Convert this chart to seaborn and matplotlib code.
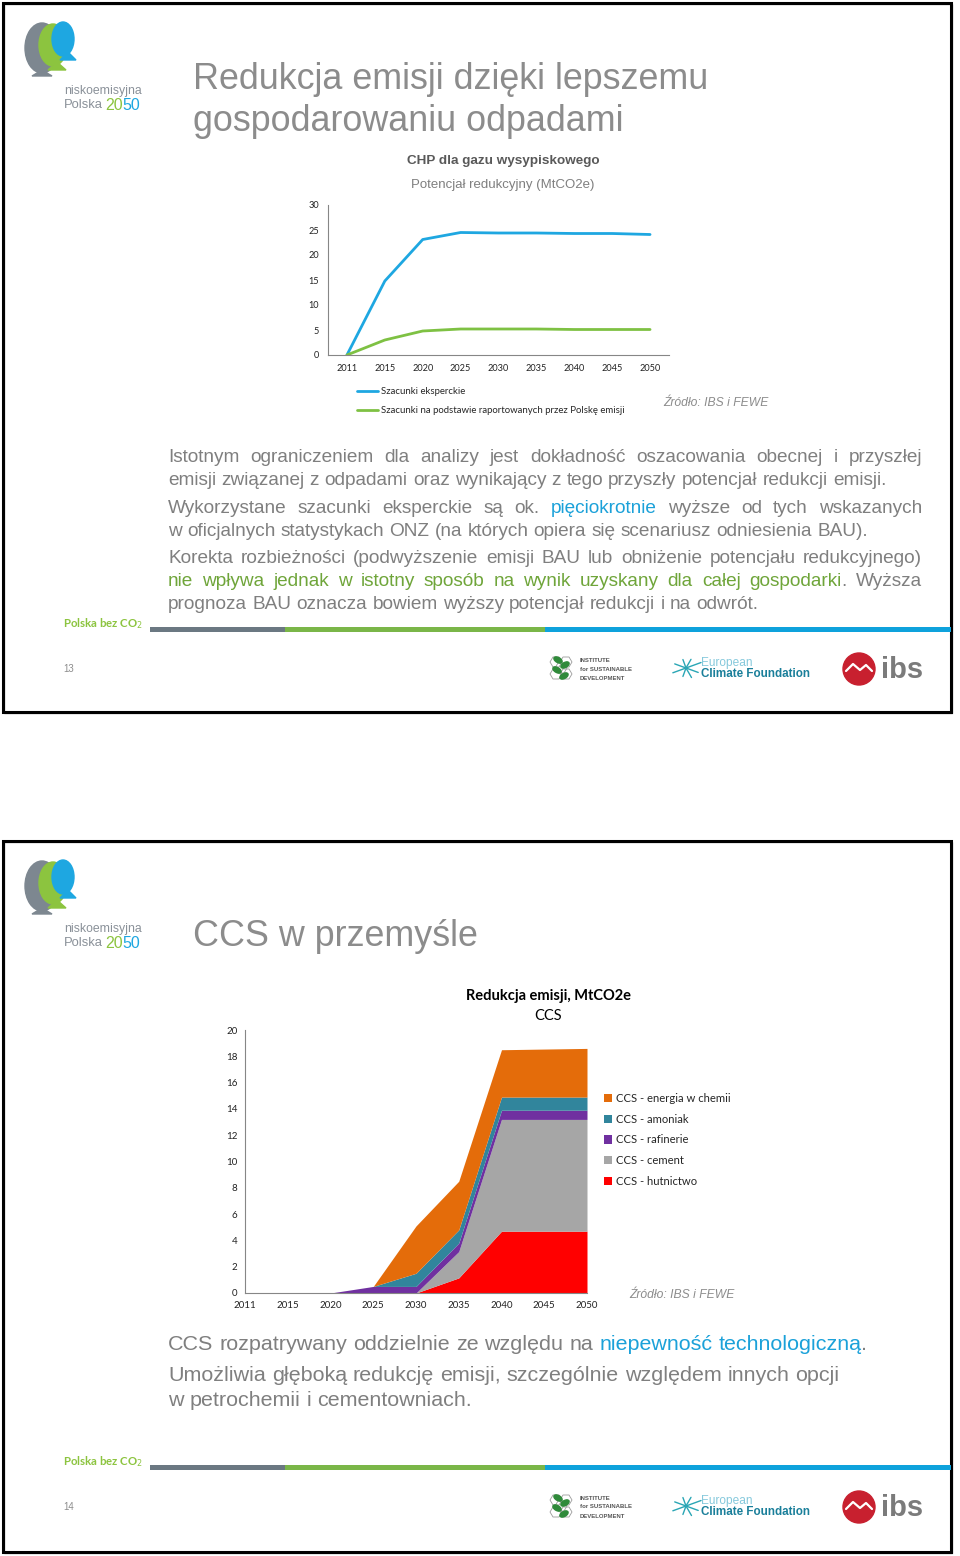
import numpy as np
import pandas as pd
import matplotlib
matplotlib.use("Agg")
import matplotlib.pyplot as plt
import matplotlib.font_manager as fm
import seaborn as sns
from matplotlib.patches import Rectangle, Ellipse, Polygon, Patch, Circle
from matplotlib.lines import Line2D

# ---------------- data ----------------
years = ['2011', '2015', '2020', '2025', '2030', '2035', '2040', '2045', '2050']

# chart 1: CHP dla gazu wysypiskowego
ekspert = [0, 14.8, 23.1, 24.5, 24.4, 24.4, 24.3, 24.3, 24.1]
raport = [0, 3.0, 4.8, 5.2, 5.2, 5.2, 5.1, 5.1, 5.1]
line_labels = ['Szacunki eksperckie',
               'Szacunki na podstawie raportowanych przez Polskę emisji']
y1_ticks = [0, 5, 10, 15, 20, 25, 30]

# chart 2: CCS (stack bottom -> top)
hutnictwo = [0, 0, 0, 0, 0, 1.15, 4.7, 4.7, 4.7]
cement = [0, 0, 0, 0, 0, 2.0, 8.5, 8.5, 8.5]
rafinerie = [0, 0, 0, 0.5, 0.5, 0.65, 0.7, 0.7, 0.7]
amoniak = [0, 0, 0, 0, 1.0, 1.0, 1.0, 1.0, 1.0]
energia = [0, 0, 0, 0, 3.6, 3.7, 3.6, 3.65, 3.7]
ccs_labels = ['CCS - hutnictwo', 'CCS - cement', 'CCS - rafinerie',
              'CCS - amoniak', 'CCS - energia w chemii']
y2_ticks = [0, 2, 4, 6, 8, 10, 12, 14, 16, 18, 20]

# ---------------- style ----------------
sns.set_theme(style="white")
plt.rcParams['font.family'] = ['Liberation Sans', 'DejaVu Sans']

installed = {f.name for f in fm.fontManager.ttflist}
BODY1 = 'Liberation Sans Narrow' if 'Liberation Sans Narrow' in installed else 'Liberation Sans'

W, H = 960, 1556
fig = plt.figure(figsize=(W / 100, H / 100), dpi=100)
fig.patch.set_facecolor('white')

bg = fig.add_axes([0, 0, 1, 1], zorder=0)
bg.set_xlim(0, W)
bg.set_ylim(H, 0)
bg.axis('off')

def fx(x):
    return x / W

def fy(y):
    return 1 - y / H

GRAY_T = '#8c8c8c'
GRAY_B = '#7f7f7f'
BLUE_T = '#1ba1d9'
GREEN_T = '#6fa53a'
CAL = ['Lato', 'DejaVu Sans']

renderer = fig.canvas.get_renderer()

def measure(s, size, family='Liberation Sans', weight='normal'):
    t = bg.text(0, 0, s, fontsize=size, family=family, fontweight=weight)
    w = t.get_window_extent(renderer).width
    t.remove()
    return w

def draw_line(segs, x0, y, size, target=None, family='Liberation Sans'):
    words = [[]]
    for text, color in segs:
        parts = text.split(' ')
        for i, p in enumerate(parts):
            if i > 0:
                words.append([])
            if p:
                words[-1].append((p, color))
    words = [w for w in words if w]
    widths = [sum(measure(t, size, family) for t, c in w) for w in words]
    space = measure('n n', size, family) - measure('nn', size, family)
    if target is not None and len(words) > 1:
        gap = (target - sum(widths)) / (len(words) - 1)
    else:
        gap = space
    x = x0
    for w, wd in zip(words, widths):
        xx = x
        for t, c in w:
            bg.text(xx, y, t, color=c, fontsize=size, family=family,
                    va='baseline', ha='left')
            xx += measure(t, size, family)
        x += wd + gap

# ---------------- slide decorations ----------------
def slide_frame(y0, h):
    bg.add_patch(Rectangle((4, y0 + 1), 948, h, fill=False, lw=1.0, ec='#9a9a9a'))
    bg.add_patch(Rectangle((3, y0), 948, h, fill=False, lw=2.2, ec='black'))

def logo(dy):
    bg.add_patch(Ellipse((42, 48 + dy), 34, 50, color='#7d8790', zorder=2))
    bg.add_patch(Polygon([[32, 76 + dy], [52, 76 + dy], [42, 70 + dy]], color='#7d8790', zorder=2))
    bg.add_patch(Ellipse((53, 45 + dy), 28, 42, color='#8cc43f', zorder=3))
    bg.add_patch(Polygon([[48, 70 + dy], [66, 70 + dy], [57, 62 + dy]], color='#8cc43f', zorder=3))
    bg.add_patch(Ellipse((63, 39 + dy), 22, 34, color='#1ea7e1', zorder=4))
    bg.add_patch(Polygon([[60, 60 + dy], [76, 60 + dy], [68, 52 + dy]], color='#1ea7e1', zorder=4))
    bg.text(64, 91 + dy, 'niskoemisyjna', fontsize=8.8, color='#8a9199', va='center', ha='left')
    bg.text(64, 105 + dy, 'Polska', fontsize=9.4, color='#8a9199', va='center', ha='left')
    w20 = measure('20', 11.5)
    bg.text(105, 105 + dy, '20', fontsize=11.5, color='#8cc43f', va='center', ha='left')
    bg.text(105 + w20, 105 + dy, '50', fontsize=11.5, color='#1ea7e1', va='center', ha='left')

def footer(dy, page):
    bg.text(63, 624 + dy, 'Polska bez CO$_2$', fontsize=8.2, fontweight='bold',
            color='#8cc43f', va='center', ha='left', family=CAL)
    bg.add_patch(Rectangle((150, 627 + dy), 135, 5, color='#6b7882', lw=0))
    bg.add_patch(Rectangle((285, 627 + dy), 260, 5, color='#7ab648', lw=0))
    bg.add_patch(Rectangle((545, 627 + dy), 406, 5, color='#0ea2dc', lw=0))
    bg.text(63, 669 + dy, page, fontsize=7, color='#8c8c8c', va='center', ha='left')
    # Institute for Sustainable Development
    for (cx, cy) in [(556, 662), (566, 662), (556, 674), (566, 674), (561, 668)]:
        bg.add_patch(Polygon([[cx - 6, cy + dy], [cx - 3, cy - 5 + dy], [cx + 3, cy - 5 + dy],
                              [cx + 6, cy + dy], [cx + 3, cy + 5 + dy], [cx - 3, cy + 5 + dy]],
                             fill=False, ec='#9a9a9a', lw=0.6))
    for (cx, cy, a) in [(558, 660, 30), (565, 665, -30), (557, 670, 30), (564, 676, -30)]:
        bg.add_patch(Ellipse((cx, cy + dy), 9, 5, angle=a, color='#2f8a3a'))
    for i, s in enumerate(['INSTITUTE', 'for SUSTAINABLE', 'DEVELOPMENT']):
        bg.text(580, 660 + 9 * i + dy, s, fontsize=4.3, fontweight='bold',
                color='#555555', va='center', ha='left')
    # European Climate Foundation
    cx, cy = 686, 668 + dy
    for ang, ln in [(20, 16), (60, 10), (110, 9), (160, 12), (200, 14), (250, 9), (300, 11), (340, 13)]:
        r = np.deg2rad(ang)
        bg.plot([cx, cx + ln * np.cos(r)], [cy, cy - ln * np.sin(r)], color='#2aa6b5', lw=1.0)
    bg.text(701, 663 + dy, 'European', fontsize=8.6, color='#86c9dc', va='center', ha='left')
    bg.text(701, 674 + dy, 'Climate Foundation', fontsize=8.4, fontweight='bold',
            color='#1a7f9a', va='center', ha='left')
    # ibs
    bg.add_patch(Circle((859, 669 + dy), 16, color='#c8202f'))
    bg.plot([846, 853, 860, 866, 872], [671 + dy, 664 + dy, 670 + dy, 665 + dy, 671 + dy],
            color='white', lw=1.6)
    bg.text(881, 670 + dy, 'ibs', fontsize=21, fontweight='bold', color='#7b7b7b',
            va='center', ha='left')

slide_frame(3, 709)
slide_frame(841, 711)
logo(0)
logo(838)
footer(0, '13')
footer(838, '14')

# ---------------- slide titles ----------------
bg.text(193, 89, 'Redukcja emisji dzięki lepszemu', fontsize=25.8, color=GRAY_T,
        va='baseline', ha='left')
bg.text(193, 131, 'gospodarowaniu odpadami', fontsize=25.8, color=GRAY_T,
        va='baseline', ha='left')
bg.text(193, 946, 'CCS w przemyśle', fontsize=25.8, color=GRAY_T,
        va='baseline', ha='left')

# ---------------- body text slide 1 ----------------
ref1 = 'emisji związanej z odpadami oraz wynikający z tego przyszły potencjał redukcji emisji.'
size1 = 10 * 727 / measure(ref1, 10, BODY1)
lines1 = [
    ([('Istotnym ograniczeniem dla analizy jest dokładność oszacowania obecnej i przyszłej', GRAY_B)], 462, True),
    ([(ref1, GRAY_B)], 485, False),
    ([('Wykorzystane szacunki eksperckie są ok. ', GRAY_B), ('pięciokrotnie', BLUE_T),
      (' wyższe od tych wskazanych', GRAY_B)], 513, True),
    ([('w oficjalnych statystykach ONZ (na których opiera się scenariusz odniesienia BAU).', GRAY_B)], 536, False),
    ([('Korekta rozbieżności (podwyższenie emisji BAU lub obniżenie potencjału redukcyjnego)', GRAY_B)], 563, True),
    ([('nie wpływa jednak w istotny sposób na wynik uzyskany dla całej gospodarki', GREEN_T),
      ('. Wyższa', GRAY_B)], 586, True),
    ([('prognoza BAU oznacza bowiem wyższy potencjał redukcji i na odwrót.', GRAY_B)], 609, False),
]
for segs, yb, just in lines1:
    draw_line(segs, 168, yb, size1, target=(922 - 168) if just else None, family=BODY1)

# ---------------- body text slide 2 ----------------
ref2 = 'CCS rozpatrywany oddzielnie ze względu na niepewność technologiczną.'
size2 = 10 * 700 / measure(ref2, 10)
lines2 = [
    ([('CCS rozpatrywany oddzielnie ze względu na ', GRAY_B), ('niepewność technologiczną', BLUE_T),
      ('.', GRAY_B)], 1350),
    ([('Umożliwia głęboką redukcję emisji, szczególnie względem innych opcji', GRAY_B)], 1381),
    ([('w petrochemii i cementowniach.', GRAY_B)], 1406),
]
for segs, yb in lines2:
    draw_line(segs, 168, yb, size2)

# ---------------- chart 1 ----------------
ax1 = fig.add_axes([fx(328), fy(355), (669 - 328) / W, (355 - 205) / H], zorder=2)
ax1.patch.set_alpha(0)
df1 = pd.DataFrame({
    'pos': list(range(len(years))) * 2,
    'value': ekspert + raport,
    'series': [line_labels[0]] * len(years) + [line_labels[1]] * len(years),
})
sns.lineplot(data=df1, x='pos', y='value', hue='series', ax=ax1,
             palette=['#1ea7e1', '#7ec143'], linewidth=2.0, legend=False)
ax1.set_xlim(-0.5, len(years) - 0.5)
ax1.set_ylim(0, 30)
ax1.set_xticks(range(len(years)))
ax1.set_xticklabels(years)
ax1.set_xticks(np.arange(-0.5, len(years), 1), minor=True)
ax1.set_yticks(y1_ticks)
ax1.set_xlabel('')
ax1.set_ylabel('')
ax1.tick_params(axis='x', which='major', length=0, pad=6.3, labelsize=6.6, labelcolor='#222222')
ax1.tick_params(axis='x', which='minor', length=3, width=0.7, color='#868686', direction='out')
ax1.tick_params(axis='y', length=3, width=0.7, color='#868686', direction='out', pad=3.5,
                labelsize=6.6, labelcolor='#222222')
for lab in ax1.get_xticklabels() + ax1.get_yticklabels():
    lab.set_family(CAL)
for s in ['top', 'right']:
    ax1.spines[s].set_visible(False)
for s in ['left', 'bottom']:
    ax1.spines[s].set_color('#868686')
    ax1.spines[s].set_linewidth(0.8)
h1 = [Line2D([], [], color='#1ea7e1', lw=2.0), Line2D([], [], color='#7ec143', lw=2.0)]
ax1.legend(h1, line_labels, loc='upper left', bbox_to_anchor=(fx(357), fy(387)),
           bbox_transform=fig.transFigure, frameon=False, prop={'family': CAL, 'size': 6.9},
           handlelength=2.2, handletextpad=0.3, labelspacing=1.05, borderpad=0, borderaxespad=0)

bg.text(503, 161, 'CHP dla gazu wysypiskowego', fontsize=9.7, fontweight='bold',
        color='#595959', ha='center', va='center')
bg.text(503, 185, 'Potencjał redukcyjny (MtCO2e)', fontsize=9.5, color='#7f7f7f',
        ha='center', va='center')
bg.text(663, 403, 'Źródło: IBS i FEWE', fontsize=8.7, style='italic', color=GRAY_T,
        ha='left', va='center')

# ---------------- chart 2 ----------------
ax2 = fig.add_axes([fx(245), fy(1293), (587 - 245) / W, (1293 - 1030) / H], zorder=2)
ax2.patch.set_alpha(0)
x2 = np.arange(len(years))
ccs_colors = ['#ff0000', '#a6a6a6', '#7030a0', '#31859c', '#e46c0a']
ax2.stackplot(x2, hutnictwo, cement, rafinerie, amoniak, energia,
              colors=ccs_colors, labels=ccs_labels, lw=0)
ax2.set_xlim(0, len(years) - 1)
ax2.set_ylim(0, 20)
ax2.set_xticks(x2)
ax2.set_xticklabels(years)
ax2.set_yticks(y2_ticks)
ax2.tick_params(axis='both', length=3, width=0.7, color='#868686', direction='out',
                labelsize=7, labelcolor='#222222', pad=2.5)
for lab in ax2.get_xticklabels() + ax2.get_yticklabels():
    lab.set_family(CAL)
for s in ['top', 'right']:
    ax2.spines[s].set_visible(False)
for s in ['left', 'bottom']:
    ax2.spines[s].set_color('#868686')
    ax2.spines[s].set_linewidth(0.8)
h2 = [Patch(facecolor=c, edgecolor='none') for c in ccs_colors][::-1]
ax2.legend(h2, ccs_labels[::-1], loc='upper left', bbox_to_anchor=(fx(604), fy(1093)),
           bbox_transform=fig.transFigure, frameon=False, prop={'family': CAL, 'size': 8.1},
           handlelength=0.75, handleheight=0.75, handletextpad=0.35, labelspacing=0.86,
           borderpad=0, borderaxespad=0)

bg.text(548, 996, 'Redukcja emisji, MtCO2e', fontsize=10.5, fontweight='bold',
        color='black', ha='center', va='center', family=CAL)
bg.text(548, 1016, 'CCS', fontsize=10.5, color='black', ha='center', va='center', family=CAL)
bg.text(629, 1295, 'Źródło: IBS i FEWE', fontsize=8.7, style='italic', color=GRAY_T,
        ha='left', va='center')

fig.savefig('out.png', dpi=100, facecolor='white')
